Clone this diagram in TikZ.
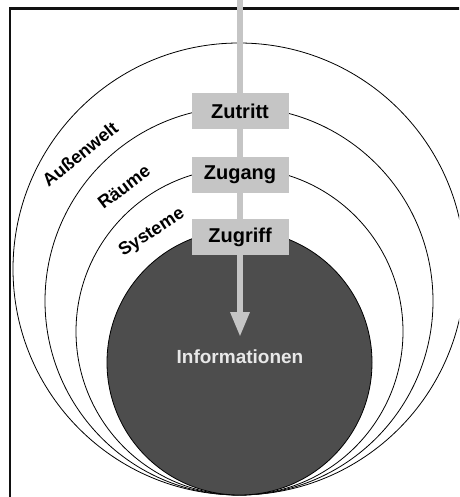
\documentclass[tikz,border=0pt]{standalone}
\usepackage{fontspec}
\setmainfont{Liberation Sans}
\usetikzlibrary{arrows.meta}
\definecolor{bargray}{RGB}{197,197,197}
\definecolor{coregray}{RGB}{77,77,77}
\definecolor{coretext}{RGB}{232,232,232}
\definecolor{framecol}{RGB}{17,17,17}
\tikzset{
  ring/.style={draw=black, line width=0.8pt, fill=white},
  core/.style={draw=black, line width=0.8pt, fill=coregray},
  gate/.style={fill=bargray, minimum width=97pt, minimum height=36pt,
    inner sep=0pt, font=\fontsize{20}{23}\selectfont\bfseries},
  flow/.style={draw=bargray, line width=6pt},
  zone/.style={font=\fontsize{18}{21}\selectfont\bfseries, inner sep=0pt},
}
\begin{document}
\begin{tikzpicture}[x=1pt, y=-1pt]
  \useasboundingbox (0,0) rectangle (459,497);
  \clip (0,0) rectangle (459,497);

  % nested protection rings, all touching at the bottom
  \path[ring] (239,269) circle (226pt);
  \path[ring] (239,301) circle (194pt);
  \path[ring] (239.5,331.5) circle (163.5pt);
  \path[core] (239.5,362.5) circle (132.5pt);

  % outer frame
  \draw[framecol, line width=2.7pt] (10,8.7) rectangle (480,520);

  % access gates
  \node[gate] (zutritt) at (240,111) {Zutritt};
  \node[gate] (zugang) at (240,175) {Zugang};
  \node[gate] (zugriff) at (240,237) {Zugriff};

  \coordinate (entry) at (240,0);
  \coordinate (tip) at (240,337);

  \draw[flow] (entry) -- (zutritt.north);
  \draw[flow] (zutritt.south) -- (zugang.north);
  \draw[flow] (zugang.south) -- (zugriff.north);
  \draw[flow, -{Triangle[width=18pt, length=25pt]}, bargray] (zugriff.south) -- (tip);

  \node[text=coretext, font=\fontsize{19}{22}\selectfont\bfseries] (info) at (240,357) {Informationen};

  % ring labels
  \node[zone, rotate=39] (aussen) at (80,154) {Außenwelt};
  \node[zone, rotate=37] (raeume) at (124,187) {Räume};
  \node[zone, rotate=33] (systeme) at (152,233) {Systeme};
\end{tikzpicture}
\end{document}
